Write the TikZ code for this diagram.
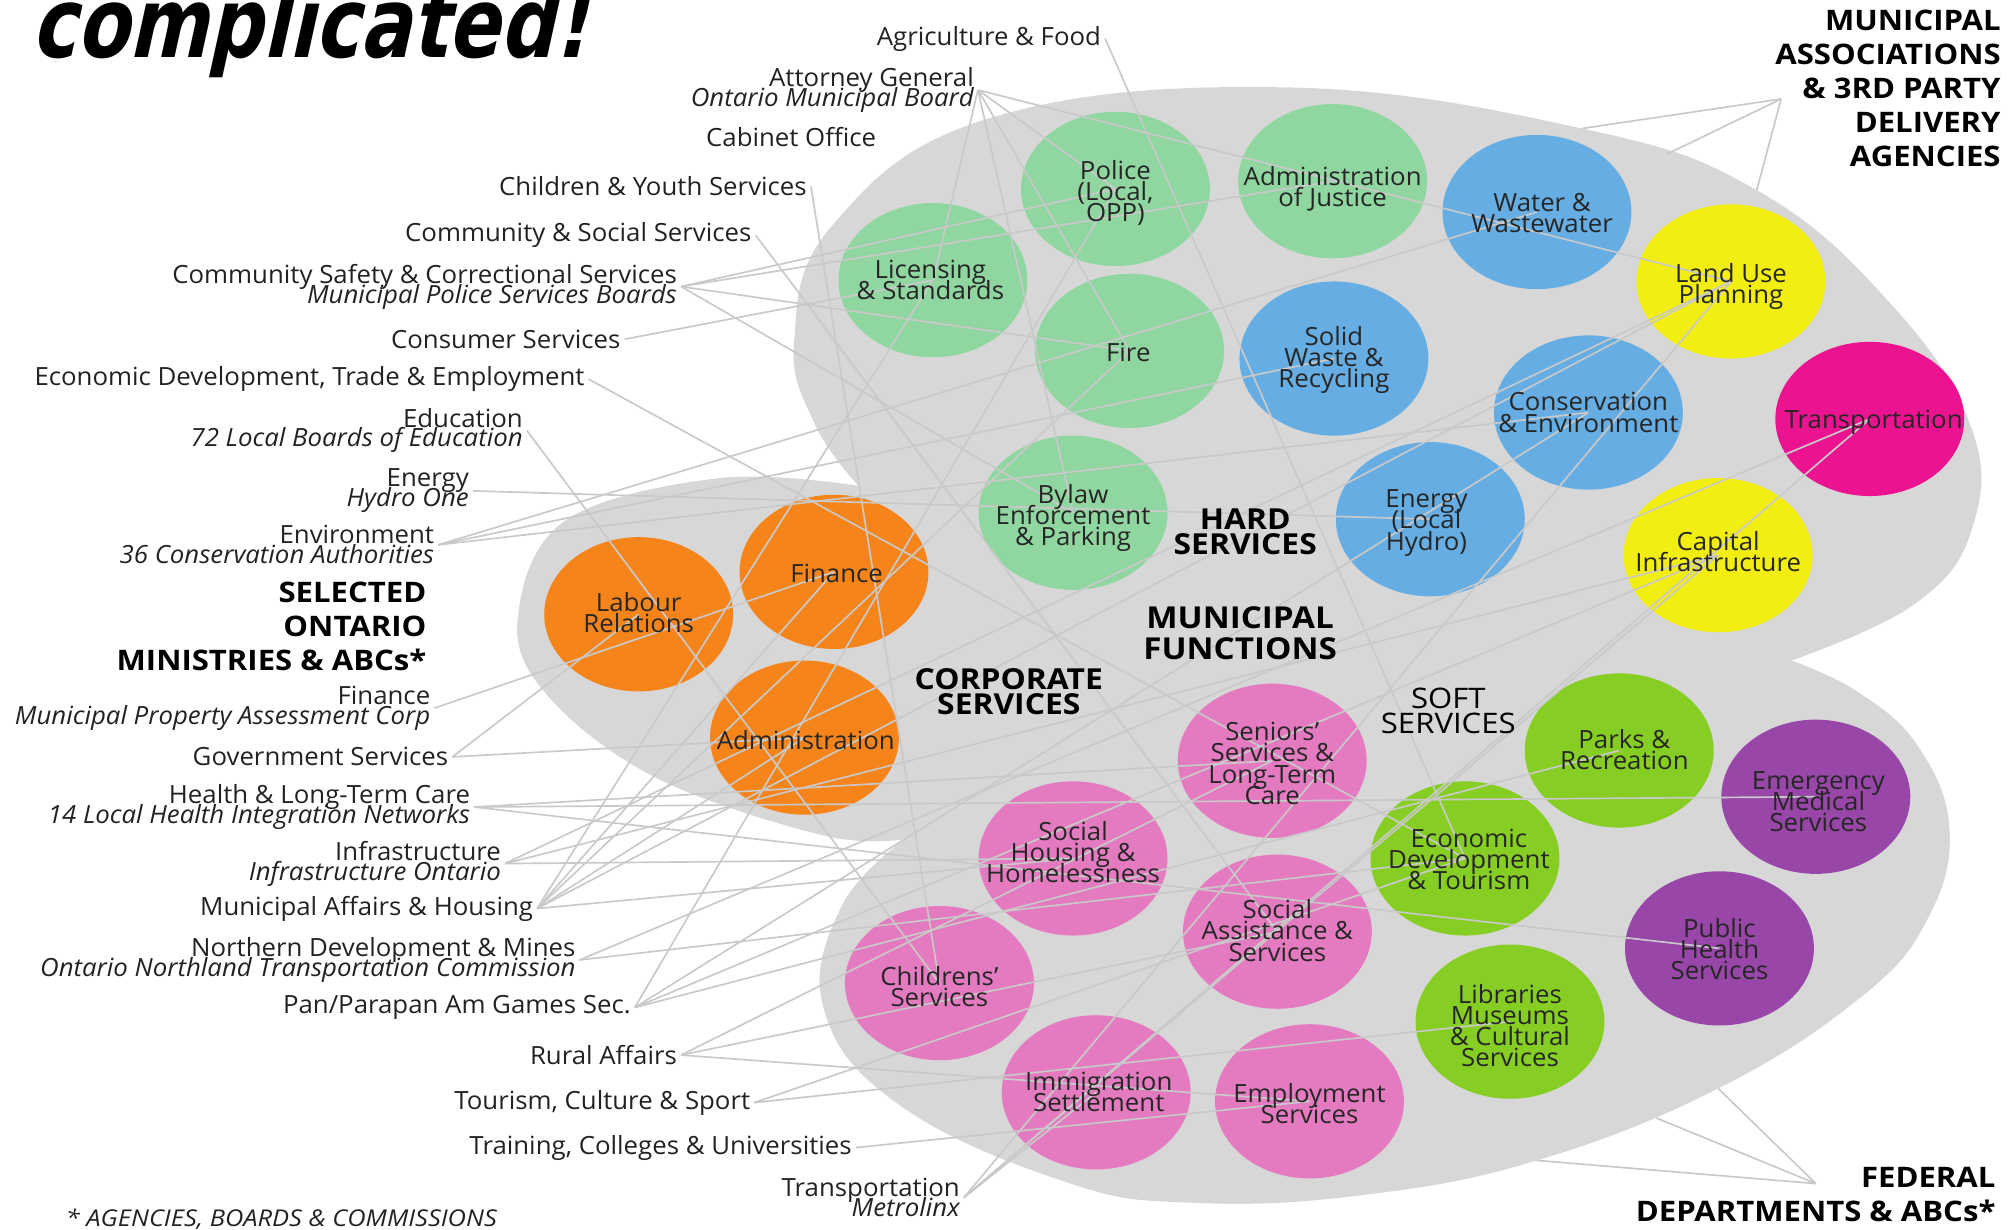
\documentclass[tikz,border=0pt]{standalone}
\usepackage{fontspec}
\setmainfont[FakeStretch=1.03]{Open Sans}
\newfontfamily\headfont[FakeStretch=1.1]{Open Sans}
\newfontfamily\titlefont[FakeStretch=0.78,FakeSlant=0.22]{DejaVu Sans Bold}
\usetikzlibrary{shapes.geometric}
\definecolor{blobgray}{HTML}{D8D7D7}
\definecolor{linkgray}{HTML}{C9C9C9}
\definecolor{inkc}{HTML}{222222}
\definecolor{cgreen}{HTML}{8FD6A0}
\definecolor{cblue}{HTML}{65ADE3}
\definecolor{cyellow}{HTML}{F2EE12}
\definecolor{cmag}{HTML}{EC1390}
\definecolor{corange}{HTML}{F5851A}
\definecolor{cpink}{HTML}{E47BC0}
\definecolor{clime}{HTML}{86CE23}
\definecolor{cpurple}{HTML}{9846A8}
\newcommand{\tight}{\lineskiplimit=-100pt\relax}
\newcommand{\lb}{\fontsize{19.5}{15.5}\selectfont\tight}
\newcommand{\hd}{\headfont\fontsize{22}{26.4}\selectfont\bfseries\tight}
\newcommand{\hs}{\headfont\fontsize{22.5}{19.5}\selectfont\bfseries\tight}
\tikzset{
  bub/.style={shape=ellipse,minimum width=147pt,minimum height=120pt,inner sep=0pt},
  lab/.style={anchor=east,align=right,inner sep=3pt,text=inkc,font=\lb},
  intext/.style={align=center,inner sep=0pt,text=black!85,font=\fontsize{19.5}{16.5}\selectfont\tight},
  headr/.style={anchor=east,align=right,inner sep=0pt,text=black,font=\hd},
  sect/.style={align=center,inner sep=0pt,text=black,font=\hs},
  link/.style={draw=linkgray,line width=1.3pt}
}
\begin{document}
\begin{tikzpicture}[x=1pt,y=-1pt]
\useasboundingbox (0,0) rectangle (1568,957);
\clip (0,0) rectangle (1568,957);
\fill[blobgray]
  plot[smooth,tension=.7] coordinates {(668,378) (634,330) (618,265) (648,175) (770,92) (1000,68) (1231,100) (1367,148) (1470,235) (1533,330) (1535,410) (1490,470) (1394,514)}
  -- plot[smooth,tension=.7] coordinates {(1394,514) (1445,538) (1492,580) (1517,645) (1500,715) (1448,776) (1337,847) (1196,903) (1060,930) (929,936) (830,920) (700,860) (641,785) (655,705) (704,653)}
  -- plot[smooth,tension=.62] coordinates {(704,653) (640,650) (510,605) (425,540) (403,480) (440,405) (560,372) (668,378)}
  -- cycle;
% outer labels
\node[lab] (lagri) at (860,30) {Agriculture \& Food};
\node[lab] (lag) at (761,70) {Attorney General\\\itshape Ontario Municipal Board};
\node[lab] (lcab) at (685,107) {Cabinet Office};
\node[lab] (lcys) at (631,145) {Children \& Youth Services};
\node[lab] (lcss) at (588,183) {Community \& Social Services};
\node[lab] (lsafe) at (530,223) {Community Safety \& Correctional Services\\\itshape Municipal Police Services Boards};
\node[lab] (lcons) at (486,264) {Consumer Services};
\node[lab] (lecon) at (458,295) {Economic Development, Trade \& Employment};
\node[lab] (ledu) at (410,335) {Education\\\itshape 72 Local Boards of Education};
\node[lab] (lene) at (368,382) {Energy\\\itshape Hydro One};
\node[lab] (lenv) at (341,424) {Environment\\\itshape 36 Conservation Authorities};
\node[lab] (lfin) at (338,551) {Finance\\\itshape Municipal Property Assessment Corp};
\node[lab] (lgov) at (352,589) {Government Services};
\node[lab] (lhea) at (369,628) {Health \& Long-Term Care\\\itshape 14 Local Health Integration Networks};
\node[lab] (linf) at (393,672) {Infrastructure\\\itshape Infrastructure Ontario};
\node[lab] (lmun) at (418,707) {Municipal Affairs \& Housing};
\node[lab] (lnor) at (451,747) {Northern Development \& Mines\\\itshape Ontario Northland Transportation Commission};
\node[lab] (lpan) at (494,784) {Pan/Parapan Am Games Sec.};
\node[lab] (lrur) at (530,821) {Rural Affairs};
\node[lab] (ltou) at (587,858) {Tourism, Culture \& Sport};
\node[lab] (ltra) at (666,893) {Training, Colleges \& Universities};
\node[lab] (ltrn) at (750,932) {Transportation\\\itshape Metrolinx};
% fan points outside the blob
\coordinate (mfan) at (1386,77);
\coordinate (ma) at (1231,100);
\coordinate (mb) at (1297,120);
\coordinate (mc) at (1367,148);
\coordinate (ffan) at (1413,921);
\coordinate (fa) at (1337,847);
\coordinate (fb) at (1289,870);
\coordinate (fc) at (1196,903);
% bubbles
\foreach \n/\x/\y/\c in {police/868/147/cgreen,justice/1037/141/cgreen,licensing/726/218/cgreen,fire/879/273/cgreen,bylaw/835/399/cgreen,
  water/1196/165/cblue,solid/1038/279/cblue,conserv/1236/321/cblue,energy/1113/404/cblue,
  landuse/1347/219/cyellow,capital/1337/432/cyellow,transp/1455/326/cmag,
  finance/649/445/corange,labour/497/478/corange,admin/626/574/corange,
  seniors/990/592/cpink,housing/835/668/cpink,assist/994/725/cpink,children/731/765/cpink,immig/853/850/cpink,employ/1019/857/cpink,
  parks/1260/584/clime,econ/1140/668/clime,libraries/1175/795/clime,
  ems/1413/620/cpurple,health/1338/738/cpurple}
  \node[bub,fill=\c] (\n) at (\x,\y) {};
% connectors
\foreach \a/\b in {lagri/econ,lag/landuse,lag/police,lag/licensing,lag/fire,lag/bylaw,lcys/children,lcss/assist,
  lsafe/police,lsafe/justice,lsafe/fire,lsafe/bylaw,lcons/licensing,lecon/econ,ledu/children,lene/energy,
  lenv/water,lenv/solid,lenv/conserv,lfin/finance,lgov/admin,lgov/labour,
  lhea/ems,lhea/seniors,lhea/health,linf/housing,linf/capital,linf/landuse,
  lmun/housing,lmun/licensing,lmun/finance,lmun/admin,lmun/landuse,lmun/fire,
  lnor/econ,lnor/transp,lpan/police,lpan/conserv,lpan/capital,lpan/parks,
  lrur/seniors,lrur/assist,lrur/employ,ltou/econ,ltou/libraries,ltra/employ,
  ltrn/immig,ltrn/capital,ltrn/transp,ltrn/landuse}
  \draw[link] (\a.east) -- (\b.center);
\foreach \a/\b in {mfan/ma,mfan/mb,mfan/mc,ffan/fa,ffan/fb,ffan/fc}
  \draw[link] (\a) -- (\b);
% bubble texts
\node[intext,yshift=-3pt] (tpolice) at (police) {Police\\(Local,\\OPP)};
\node[intext,yshift=-6pt] (tjustice) at (justice) {Administration\\of Justice};
\node[intext,xshift=-2pt,yshift=0pt] (tlicensing) at (licensing) {Licensing\\\& Standards};
\node[intext,xshift=-1pt,yshift=-1pt] (tfire) at (fire) {Fire};
\node[intext,yshift=-4pt] (tbylaw) at (bylaw) {Bylaw\\Enforcement\\\& Parking};
\node[intext,xshift=4pt,yshift=-1pt] (twater) at (water) {Water \&\\Wastewater};
\node[intext,yshift=-1pt] (tsolid) at (solid) {Solid\\Waste \&\\Recycling};
\node[intext,yshift=0pt] (tconserv) at (conserv) {Conservation\\\& Environment};
\node[intext,xshift=-3pt,yshift=-3pt] (tenergy) at (energy) {Energy\\(Local\\Hydro)};
\node[intext,yshift=-4pt] (tlanduse) at (landuse) {Land Use\\Planning};
\node[intext,yshift=3pt] (tcapital) at (capital) {Capital\\Infrastructure};
\node[intext,xshift=3pt,yshift=-3pt] (ttransp) at (transp) {Transportation};
\node[intext,xshift=2pt,yshift=-1pt] (tfinance) at (finance) {Finance};
\node[intext,yshift=1pt] (tlabour) at (labour) {Labour\\Relations};
\node[intext,xshift=1pt,yshift=-2pt] (tadmin) at (admin) {Administration};
\node[intext,yshift=-2pt] (tseniors) at (seniors) {Seniors'\\Services \&\\Long-Term\\Care};
\node[intext,yshift=5pt] (thousing) at (housing) {Social\\Housing \&\\Homelessness};
\node[intext,yshift=1pt] (tassist) at (assist) {Social\\Assistance \&\\Services};
\node[intext,yshift=-3pt] (tchildren) at (children) {Childrens'\\Services};
\node[intext,xshift=2pt,yshift=0pt] (timmig) at (immig) {Immigration\\Settlement};
\node[intext,yshift=-2pt] (temploy) at (employ) {Employment\\Services};
\node[intext,xshift=4pt,yshift=0.5pt] (tparks) at (parks) {Parks \&\\Recreation};
\node[intext,xshift=3pt,yshift=-1pt] (tecon) at (econ) {Economic\\Development\\\& Tourism};
\node[intext,yshift=-3pt] (tlibraries) at (libraries) {Libraries\\Museums\\\& Cultural\\Services};
\node[intext,xshift=2pt,yshift=-4pt] (tems) at (ems) {Emergency\\Medical\\Services};
\node[intext,yshift=-0.5pt] (thealth) at (health) {Public\\Health\\Services};
% section titles
\node[sect] (shard) at (969,414) {HARD\\SERVICES};
\node[sect,font=\headfont\fontsize{23.5}{24}\selectfont\bfseries\tight] (sfunc) at (965,493) {MUNICIPAL\\FUNCTIONS};
\node[sect] (scorp) at (785,538) {CORPORATE\\SERVICES};
\node[sect,font=\headfont\fontsize{22}{19.5}\selectfont\tight] (ssoft) at (1127,553) {SOFT\\SERVICES};
\node[headr] (hont) at (332,487.5) {SELECTED\\ONTARIO\\MINISTRIES \& ABCs*};
\node[headr] (hmun) at (1557,69) {MUNICIPAL\\ASSOCIATIONS\\\& 3RD PARTY\\DELIVERY\\AGENCIES};
\node[headr] (hfed) at (1553,929.5) {FEDERAL\\DEPARTMENTS \& ABCs*};
\node[anchor=west,inner sep=0pt,text=inkc,font=\headfont\fontsize{18}{18}\selectfont\itshape] (note) at (51,949) {* AGENCIES, BOARDS \& COMMISSIONS};
\node[anchor=base west,inner sep=0pt,font=\titlefont\fontsize{76}{76}\selectfont] (title) at (24,45) {complicated!};
\end{tikzpicture}
\end{document}
